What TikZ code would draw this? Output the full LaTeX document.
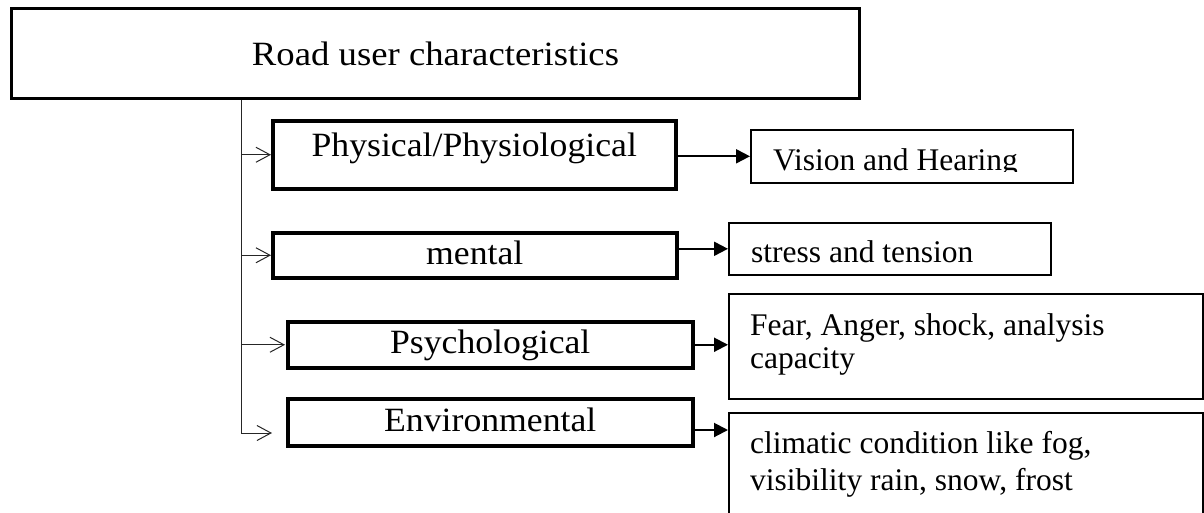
\documentclass[tikz,border=0pt]{standalone}
\usepackage{fontspec}
\setmainfont{Liberation Serif}
\usetikzlibrary{arrows.meta}
\begin{document}
\begin{tikzpicture}[x=1pt,y=-1pt,
  lbox/.style={draw, line width=3.5pt, inner xsep=0pt, inner ysep=0pt, anchor=north west, font=\fontsize{34}{40}\selectfont},
  rbox/.style={draw, line width=1.6pt, inner sep=0pt, anchor=north west},
  rtext/.style={anchor=base west, inner sep=0pt, font=\fontsize{31.5}{36}\selectfont},
  branch/.style={line width=1pt, draw=black!85, -{Straight Barb[length=14pt,width=15pt,line width=1pt]}},
  link/.style={line width=2pt, -{Triangle[length=14pt,width=14pt]}},
]
\useasboundingbox (0,0) rectangle (1204,512);

% main box
\node[lbox, line width=3pt, minimum width=848pt, text height=57pt, text depth=33pt] (top) at (10,7)
  {\scalebox{1.08}[1]{Road user characteristics}};

% left column
\node[lbox, minimum width=403pt, text height=36pt, text depth=32pt] (phys) at (271,119)
  {\scalebox{1.05}[1]{Physical/Physiological}};
\node[lbox, minimum width=404pt, text height=32pt, text depth=13pt] (ment) at (271,231)
  {\scalebox{1.05}[1]{mental}};
\node[lbox, minimum width=405pt, text height=32pt, text depth=14pt] (psych) at (286,320)
  {\scalebox{1.05}[1]{Psychological}};
\node[lbox, minimum width=405pt, text height=33pt, text depth=14pt] (env) at (286,397)
  {\scalebox{1.05}[1]{Environmental}};

% right column
\node[rbox, minimum width=322pt, minimum height=53pt] (vis) at (750,129) {};
\begin{scope}
  \clip (750,129) rectangle (1072,171);
  \node[rtext] (vist) at (773,170) {Vision and Hearing};
\end{scope}
\node[rbox, minimum width=322pt, minimum height=52pt] (str) at (728,222) {};
\node[rtext] (strt) at (751,262) {stress and tension};
\node[rbox, minimum width=474pt, minimum height=105pt] (fear) at (728,293) {};
\node[rtext, anchor=north west, align=left, font=\fontsize{31.5}{33}\selectfont] (feart) at (750,313.5)
  {Fear, Anger, shock, analysis\\capacity};
\node[rbox, minimum width=474pt, minimum height=110pt] (clim) at (728,412) {};
\node[rtext, anchor=north west, align=left, font=\fontsize{31.5}{37.5}\selectfont] (climt) at (750,431)
  {climatic condition like fog,\\visibility rain, snow, frost};

% trunk and branches
\coordinate (tx) at (241,0);
\coordinate (tend) at (272,433);
\draw[branch] (top.south -| tx) |- (tend);
\draw[branch] (phys.west -| tx) -- (phys.west);
\draw[branch] (ment.west -| tx) -- (ment.west);
\draw[branch] (psych.west -| tx) -- ([xshift=-1pt]psych.west);

% links to details
\coordinate (ey) at (0,430);
\draw[link] (vis.west -| phys.east) -- (vis.west);
\draw[link] (str.west -| ment.east) -- (str.west);
\draw[link] (psych.east) -- (psych.east -| fear.west);
\draw[link] (env.east |- ey) -- (clim.west |- ey);
\end{tikzpicture}
\end{document}
